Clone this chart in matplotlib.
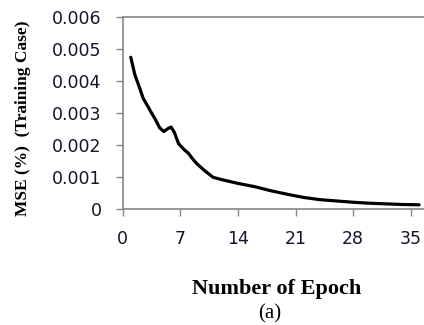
import numpy as np
import matplotlib.pyplot as plt

# ---- Data ----
epoch = [1, 1.5, 2, 2.5, 3, 3.5, 4, 4.5, 5, 5.5, 5.9, 6.3, 6.8, 7.5, 8, 8.5, 9, 10,
         11, 12, 13, 14, 16, 18, 20, 22, 24, 26, 28, 30, 32, 34, 36]
mse = [0.00475, 0.0042, 0.00385, 0.00347, 0.00325, 0.00302, 0.0028, 0.00255, 0.00243,
       0.00252, 0.00257, 0.0024, 0.00205, 0.00186, 0.00175, 0.00158, 0.00143, 0.0012,
       0.001, 0.00093, 0.00087, 0.00081, 0.00071, 0.00058, 0.00047, 0.00037, 0.0003,
       0.00026, 0.00022, 0.00019, 0.00017, 0.00015, 0.00014]

x_ticks = [0, 7, 14, 21, 28, 35]
y_ticks = [0, 0.001, 0.002, 0.003, 0.004, 0.005, 0.006]
y_tick_labels = ['0', '0.001', '0.002', '0.003', '0.004', '0.005', '0.006']

fig = plt.figure(figsize=(4.24, 3.25), dpi=100)
ax = fig.add_axes([0.289, 1 - 209.3 / 325, 1 - 0.289, (209.3 - 17.3) / 325])

ax.plot(epoch, mse, color='black', linewidth=2.3, solid_capstyle='round',
        solid_joinstyle='round')

ax.set_xlim(0, 36.6)
ax.set_ylim(0, 0.006)
ax.set_xticks(x_ticks)
ax.set_yticks(y_ticks)
ax.set_yticklabels(y_tick_labels)

grey = '#868686'
for side in ['left', 'top', 'bottom']:
    ax.spines[side].set_color(grey)
    ax.spines[side].set_linewidth(1.2)
ax.spines['right'].set_visible(False)
ax.tick_params(direction='out', length=5, width=1.0, color=grey,
               labelsize=12.5, labelcolor='#15152a', pad=10)
for lab in ax.get_xticklabels() + ax.get_yticklabels():
    lab.set_family('DejaVu Sans')

fig.text(0.054, (325 - 118) / 325, 'MSE (%)  (Training Case)', rotation=90,
         ha='center', va='center', family='Liberation Serif',
         fontweight='bold', fontsize=12.5)
fig.text(277 / 424, 1 - 289 / 325, 'Number of Epoch',
         ha='center', va='center', family='Liberation Serif',
         fontweight='bold', fontsize=16)
fig.text(270 / 424, 1 - 314 / 325, '(a)',
         ha='center', va='center', family='Liberation Serif', fontsize=15)

fig.savefig('out.png', dpi=100)
